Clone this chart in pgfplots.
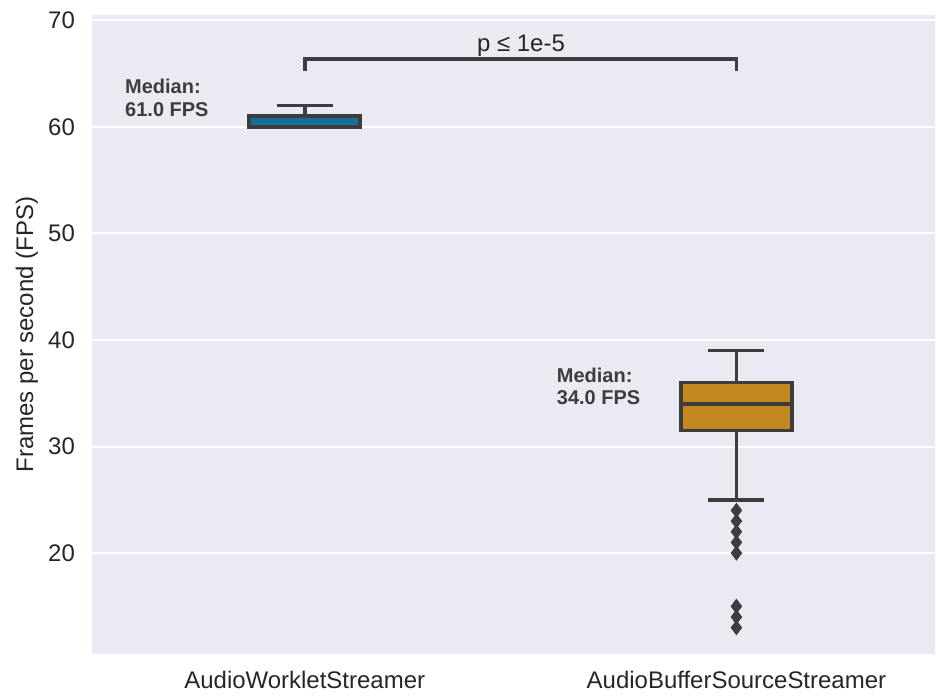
\documentclass[border=0pt]{standalone}
\usepackage{fontspec}
\setmainfont{Liberation Sans}
\usepackage{pgfplots}
\pgfplotsset{compat=1.18}
\definecolor{bgc}{HTML}{EAEAF2}
\definecolor{linec}{HTML}{3D3D3D}
\definecolor{txtc}{HTML}{262626}
\definecolor{cone}{HTML}{176D9C}
\definecolor{ctwo}{HTML}{C3881F}
\begin{document}
\begin{tikzpicture}
\begin{axis}[
  scale only axis,
  width=422pt, height=320pt,
  xmin=-0.493, xmax=1.46,
  ymin=10.5, ymax=70.5,
  axis background/.style={fill=bgc},
  axis line style={draw=none},
  ymajorgrids,
  grid style={white, line width=1pt},
  xtick={0,1},
  xticklabels={AudioWorkletStreamer, AudioBufferSourceStreamer},
  ytick={20,30,40,50,60,70},
  major tick length=0pt,
  tick style={draw=none},
  /pgf/number format/assume math mode=true,
  ticklabel style={font=\fontsize{12}{14}\selectfont, text=txtc},
  xticklabel style={yshift=-5pt},
  yticklabel style={xshift=-5pt},
  ylabel={Frames per second (FPS)},
  ylabel style={font=\fontsize{12}{14}\selectfont, text=txtc, at={(axis description cs:-0.077,0.5)}, anchor=center},
  clip=false,
]
% Box 1: whisker 60-62, Q1 60, median 61, Q3 61
\addplot[draw=linec, line width=1.8pt] coordinates {(0,61) (0,62)};
\addplot[draw=linec, line width=1.8pt] coordinates {(-0.065,62) (0.065,62)};
\addplot[draw=linec, fill=cone, line width=1.8pt] coordinates {(-0.1285,60) (0.1285,60) (0.1285,61) (-0.1285,61)} -- cycle;
\addplot[draw=linec, line width=1.8pt] coordinates {(-0.1285,61) (0.1285,61)};
% Box 2: whiskers 25-39, Q1 31.5, median 34, Q3 36
\addplot[draw=linec, line width=1.8pt] coordinates {(1,36) (1,39)};
\addplot[draw=linec, line width=1.8pt] coordinates {(1,25) (1,31.5)};
\addplot[draw=linec, line width=1.8pt] coordinates {(0.935,39) (1.065,39)};
\addplot[draw=linec, line width=1.8pt] coordinates {(0.935,25) (1.065,25)};
\addplot[draw=linec, fill=ctwo, line width=1.8pt] coordinates {(0.8715,31.5) (1.1285,31.5) (1.1285,36) (0.8715,36)} -- cycle;
\addplot[draw=linec, line width=1.8pt] coordinates {(0.8715,34) (1.1285,34)};
% outliers
\addplot[only marks, mark=diamond*, mark size=3.5pt, mark options={fill=linec, draw=linec, line width=0.4pt}] coordinates {(1,24) (1,23) (1,22) (1,21) (1,20) (1,15) (1,14) (1,13)};
% significance bracket
\addplot[draw=linec, line width=1.8pt] coordinates {(0,65.25) (0,66.36) (1,66.36) (1,65.25)};
\node[anchor=south, inner sep=0pt, yshift=1.2pt, text=txtc, font=\fontsize{12}{14}\selectfont] at (axis cs:0.501,66.36) {p ≤ 1e-5};
\node[anchor=north west, inner sep=0pt, align=left, text=linec, font=\fontsize{10}{11.2}\selectfont\bfseries] at (axis cs:-0.4167,64.5) {Median:\\61.0 FPS};
\node[anchor=north west, inner sep=0pt, align=left, text=linec, font=\fontsize{10}{11.2}\selectfont\bfseries] at (axis cs:0.5833,37.4) {Median:\\34.0 FPS};
\end{axis}
\path (current axis.south west) ++(-46pt,-20pt);
\path (current axis.north east) ++(0pt,7.5pt);
\end{tikzpicture}
\end{document}
